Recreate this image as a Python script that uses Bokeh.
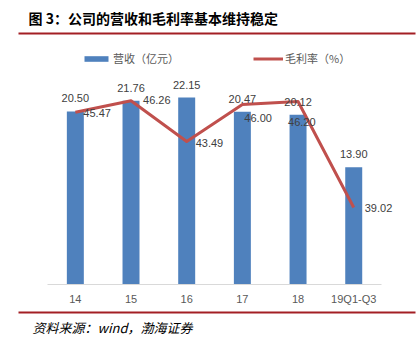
from bokeh.plotting import figure
from bokeh.layouts import column
from bokeh.models import (Range1d, FixedTicker, Label, BoxAnnotation, Legend,
                          LegendItem, ColumnDataSource)
from bokeh.core.properties import value
from bokeh.embed import file_html
from bokeh.resources import INLINE

# ---- data ----
categories = ["14", "15", "16", "17", "18", "19Q1-Q3"]
revenue = [20.50, 21.76, 22.15, 20.47, 20.12, 13.90]          # 营收（亿元）
gross_margin = [45.47, 46.26, 43.49, 46.00, 46.20, 39.02]     # 毛利率（%）

# label offsets (styling only, screen px)
margin_dx = [8, 12, 9, 2, -10, 11]
margin_dy = [1, -1, 1, 13, 20, 1]

BLUE = "#4F81BD"
RED = "#C0504D"
RULE = "#A31F24"
W = 416

idx = list(range(len(categories)))
src = ColumnDataSource(dict(
    x=idx,
    rev=revenue,
    rev_txt=[f"{v:.2f}" for v in revenue],
    gm=gross_margin,
    gm_txt=[f"{v:.2f}" for v in gross_margin],
    dx=margin_dx,
    dy=margin_dy,
))


def blank(height):
    f = figure(width=W, height=height, output_backend="svg",
               toolbar_location=None, title=None,
               x_range=Range1d(0, 1), y_range=Range1d(0, 1),
               x_axis_location=None, y_axis_location=None,
               min_border=0, outline_line_color=None,
               background_fill_color="white", border_fill_color="white")
    f.xgrid.visible = False
    f.ygrid.visible = False
    f.frame_align = False
    return f


# ---- header ----
header = blank(45)
header.add_layout(Label(x=28, y=28, x_units="screen", y_units="screen",
                        text="图 3：公司的营收和毛利率基本维持稳定",
                        text_font="Noto Sans CJK SC", text_font_style="bold",
                        text_font_size="14px", text_baseline="middle",
                        text_color="#000000"))
header.add_layout(BoxAnnotation(left=18, right=415, top=13, bottom=11,
                                left_units="screen", right_units="screen",
                                top_units="screen", bottom_units="screen",
                                fill_color=RULE, fill_alpha=1, line_color=None))

# ---- main chart ----
p = figure(width=W, height=262, output_backend="svg", toolbar_location=None,
           title=None, x_range=Range1d(-0.5, 5.84),
           y_range=Range1d(0, 28.31), y_axis_location=None,
           min_border_left=47, min_border_right=16, min_border_top=0,
           min_border_bottom=23, outline_line_color=None,
           background_fill_color="white", border_fill_color="white")
p.frame_align = False
p.extra_y_ranges = {"margin": Range1d(33.8, 50.0)}
p.xgrid.visible = False
p.ygrid.visible = False

ax = p.xaxis[0]
ax.ticker = FixedTicker(ticks=idx)
ax.major_label_overrides = {i: c for i, c in zip(idx, categories)}
ax.bounds = (-0.5, 5.5)
ax.axis_line_color = "#D9D9D9"
ax.axis_line_width = 1
ax.major_tick_line_color = None
ax.minor_tick_line_color = None
ax.major_tick_out = 0
ax.major_tick_in = 0
ax.major_label_standoff = 8
ax.major_label_text_font = "Liberation Sans"
ax.major_label_text_font_size = "11px"
ax.major_label_text_color = "#595959"

bars = p.vbar(x="x", top="rev", width=0.305, source=src,
              fill_color=BLUE, line_color=None)
line = p.line(x="x", y="gm", source=src, y_range_name="margin",
              line_color=RED, line_width=3, line_join="round")

p.text(x="x", y="rev", text="rev_txt", source=src, y_offset=-13,
       text_align="center", text_baseline="middle",
       text_font=value("Liberation Sans"), text_font_size="11px",
       text_color="#404040")
p.text(x="x", y="gm", text="gm_txt", source=src, y_range_name="margin",
       x_offset="dx", y_offset="dy", text_align="left", text_baseline="middle",
       text_font=value("Liberation Sans"), text_font_size="11px",
       text_color="#404040")

legend = Legend(items=[LegendItem(label="营收（亿元）", renderers=[bars]),
                       LegendItem(label="毛利率（%）", renderers=[line])],
                location=(34, 218), orientation="horizontal", spacing=74,
                glyph_width=30, glyph_height=7, label_standoff=2, padding=0,
                margin=0, border_line_color=None, background_fill_alpha=0,
                label_text_font="Noto Sans CJK SC", label_text_font_size="11px",
                label_text_color="#595959", label_height=14)
p.add_layout(legend)

# ---- footer ----
footer = blank(45)
footer.add_layout(BoxAnnotation(left=18, right=415, top=41, bottom=39,
                                left_units="screen", right_units="screen",
                                top_units="screen", bottom_units="screen",
                                fill_color=RULE, fill_alpha=1, line_color=None))
footer.add_layout(Label(x=32, y=25, x_units="screen", y_units="screen",
                        text="资料来源：wind，渤海证券",
                        text_font="Noto Sans CJK SC", text_font_style="italic",
                        text_font_size="13px", text_baseline="middle",
                        text_color="#000000"))

layout = column(header, p, footer, spacing=0)
open("out.html", "w").write(file_html(layout, INLINE))
